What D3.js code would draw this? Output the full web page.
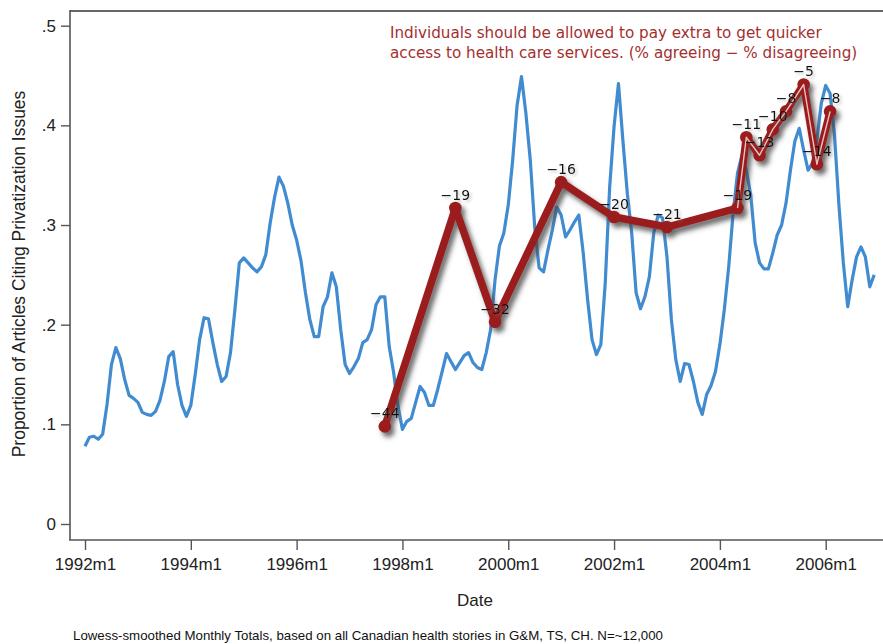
<!DOCTYPE html>
<html><head><meta charset="utf-8">
<script src="https://cdn.jsdelivr.net/npm/d3@7"></script>
<style>body{margin:0;background:#fff} svg{display:block}</style>
</head><body>
<svg id="c" width="883" height="644"></svg>
<script>
// ---- data ----
const startYear = 1992;
const xTickLabels = ["1992m1","1994m1","1996m1","1998m1","2000m1","2002m1","2004m1","2006m1"];
const yTickValues = [0, 0.1, 0.2, 0.3, 0.4, 0.5];
const yTickLabels = ["0", ".1", ".2", ".3", ".4", ".5"];
// monthly share of articles citing privatization, 1992m1 .. 2006m12
const monthlyShare = [
  0.078,0.087,0.088,0.085,0.090,0.120,0.160,0.177,0.166,0.145,0.129,0.126, // 1992
  0.122,0.112,0.110,0.109,0.113,0.124,0.143,0.168,0.173,0.140,0.119,0.108, // 1993
  0.119,0.150,0.185,0.207,0.206,0.182,0.160,0.143,0.148,0.172,0.215,0.262, // 1994
  0.267,0.262,0.257,0.253,0.258,0.270,0.302,0.328,0.348,0.339,0.322,0.300, // 1995
  0.285,0.264,0.232,0.205,0.188,0.188,0.218,0.228,0.252,0.238,0.195,0.160, // 1996
  0.151,0.158,0.166,0.182,0.185,0.195,0.220,0.228,0.228,0.178,0.152,0.118, // 1997
  0.095,0.103,0.106,0.122,0.138,0.132,0.119,0.119,0.135,0.153,0.171,0.163, // 1998
  0.155,0.162,0.169,0.172,0.162,0.157,0.155,0.172,0.195,0.245,0.279,0.292, // 1999
  0.320,0.365,0.420,0.449,0.412,0.365,0.298,0.257,0.253,0.275,0.295,0.318, // 2000
  0.310,0.288,0.295,0.303,0.310,0.272,0.225,0.185,0.170,0.180,0.242,0.338, // 2001
  0.399,0.442,0.385,0.332,0.292,0.232,0.216,0.228,0.248,0.292,0.310,0.307, // 2002
  0.268,0.205,0.165,0.143,0.161,0.160,0.143,0.122,0.110,0.130,0.139,0.153, // 2003
  0.180,0.215,0.258,0.312,0.352,0.370,0.355,0.330,0.282,0.262,0.256,0.256, // 2004
  0.272,0.290,0.300,0.322,0.355,0.384,0.397,0.375,0.355,0.362,0.385,0.422, // 2005
  0.440,0.432,0.390,0.320,0.262,0.218,0.245,0.268,0.278,0.268,0.238,0.250  // 2006
];
const surveyDates  = ["1997m9","1999m1","1999m10","2001m1","2002m1","2003m1","2004m5","2004m7","2004m10","2005m1","2005m4","2005m8","2005m11","2006m2"];
const surveyValues = [0.098,0.317,0.203,0.343,0.308,0.298,0.317,0.388,0.370,0.396,0.414,0.441,0.361,0.414];
const surveyLabels = [-44,-19,-32,-16,-20,-21,-19,-11,-13,-10,-8,-5,-14,-8];
const titleLines = ["Individuals should be allowed to pay extra to get quicker",
                    "access to health care services. (% agreeing \u2212 % disagreeing)"];
const yTitle = "Proportion of Articles Citing Privatization Issues";
const xTitle = "Date";
const note = "Lowess-smoothed Monthly Totals, based on all Canadian health stories in G&M, TS, CH. N=~12,000";

// ---- helpers ----
const monthIndex = s => { const [y, m] = s.split("m").map(Number); return (y - startYear) * 12 + (m - 1); };
const fmtMinus = v => String(v).replace("-", "\u2212");

const svg = d3.select("#c");
const x = d3.scaleLinear().domain([0, 168]).range([85, 825.7]);
const y = d3.scaleLinear().domain([0, 0.5]).range([524, 25.7]);

const defs = svg.append("defs");
const f = defs.append("filter").attr("id","sh").attr("x","-20%").attr("y","-20%").attr("width","140%").attr("height","140%");
f.append("feDropShadow").attr("dx",3.5).attr("dy",4.5).attr("stdDeviation",2.6).attr("flood-color","#444").attr("flood-opacity",0.8);
const f2 = defs.append("filter").attr("id","tsh").attr("x","-20%").attr("y","-40%").attr("width","140%").attr("height","180%");
f2.append("feDropShadow").attr("dx",2).attr("dy",2).attr("stdDeviation",1.5).attr("flood-color","#888").attr("flood-opacity",0.5);

// frame lines
const axisColor = "#555";
svg.append("line").attr("x1",70).attr("x2",883).attr("y1",11).attr("y2",11).attr("stroke","#666").attr("stroke-width",2);
svg.append("line").attr("x1",70).attr("x2",70).attr("y1",10).attr("y2",540).attr("stroke",axisColor).attr("stroke-width",1.6);
svg.append("line").attr("x1",69).attr("x2",883).attr("y1",540).attr("y2",540).attr("stroke",axisColor).attr("stroke-width",1.6);

// y axis
const yAxis = svg.append("g").attr("transform","translate(70,0)")
  .call(d3.axisLeft(y).tickValues(yTickValues).tickFormat((d,i)=>yTickLabels[i]).tickSize(9).tickPadding(5));
yAxis.select(".domain").remove();
yAxis.selectAll(".tick line").attr("stroke",axisColor).attr("stroke-width",1.4);
yAxis.selectAll(".tick text").attr("font-family","Liberation Sans, Arial, sans-serif").attr("font-size",17).attr("fill","#222");

// x axis
const xAxis = svg.append("g").attr("transform","translate(0,540)")
  .call(d3.axisBottom(x).tickValues(xTickLabels.map(monthIndex)).tickFormat((d,i)=>xTickLabels[i]).tickSize(10));
xAxis.select(".domain").remove();
xAxis.selectAll(".tick line").attr("stroke",axisColor).attr("stroke-width",1.4);
xAxis.selectAll(".tick text").attr("y",30).attr("dy",0)
  .attr("font-family","Liberation Sans, Arial, sans-serif").attr("font-size",17).attr("fill","#222");

// blue monthly line
svg.append("path").datum(monthlyShare)
  .attr("d", d3.line().x((d,i)=>x(i)).y(d=>y(d)))
  .attr("fill","none").attr("stroke","#418bd0").attr("stroke-width",3.2).attr("stroke-linejoin","round");

// survey line
const survey = surveyDates.map((d,i)=>({m: monthIndex(d), v: surveyValues[i], lab: surveyLabels[i], i}));
const red = "#9a1c1c";
const rg = svg.append("g").attr("filter","url(#sh)");
rg.append("path").datum(survey)
  .attr("d", d3.line().x(d=>x(d.m)).y(d=>y(d.v)))
  .attr("fill","none").attr("stroke",red).attr("stroke-width",7.5).attr("stroke-linejoin","round");
rg.selectAll("circle").data(survey).join("circle")
  .attr("cx",d=>x(d.m)).attr("cy",d=>y(d.v)).attr("r",6.3).attr("fill",red);
// light centre stripe on the dense 2004-2006 segment
svg.append("path").datum(survey.slice(6))
  .attr("d", d3.line().x(d=>x(d.m)).y(d=>y(d.v)))
  .attr("fill","none").attr("stroke","#e6c4c4").attr("stroke-width",1.4).attr("stroke-linejoin","round");

svg.append("g").attr("filter","url(#tsh)").selectAll("text").data(survey).join("text")
  .attr("x",d=>x(d.m)).attr("y",d=>y(d.v)-8).attr("text-anchor","middle")
  .attr("font-family","DejaVu Sans, sans-serif").attr("font-size",14).attr("fill","#111")
  .text(d=>fmtMinus(d.lab));

// title (annotation)
svg.append("g").selectAll("text").data(titleLines).join("text")
  .attr("x",390).attr("y",(d,i)=>38+i*19.5)
  .attr("font-family","DejaVu Sans, sans-serif").attr("font-size",15.2).attr("fill","#a32f2f")
  .text(d=>d);

// axis titles
svg.append("text").attr("transform","translate(25,274) rotate(-90)").attr("text-anchor","middle")
  .attr("font-family","Liberation Sans, Arial, sans-serif").attr("font-size",17.5).attr("fill","#222").text(yTitle);
svg.append("text").attr("x",475).attr("y",606).attr("text-anchor","middle")
  .attr("font-family","Liberation Sans, Arial, sans-serif").attr("font-size",17).attr("fill","#222").text(xTitle);
svg.append("text").attr("x",73).attr("y",640).attr("textLength",590).attr("lengthAdjust","spacingAndGlyphs")
  .attr("font-family","Liberation Sans, Arial, sans-serif").attr("font-size",13.5).attr("fill","#111").text(note);
</script>
</body></html>
